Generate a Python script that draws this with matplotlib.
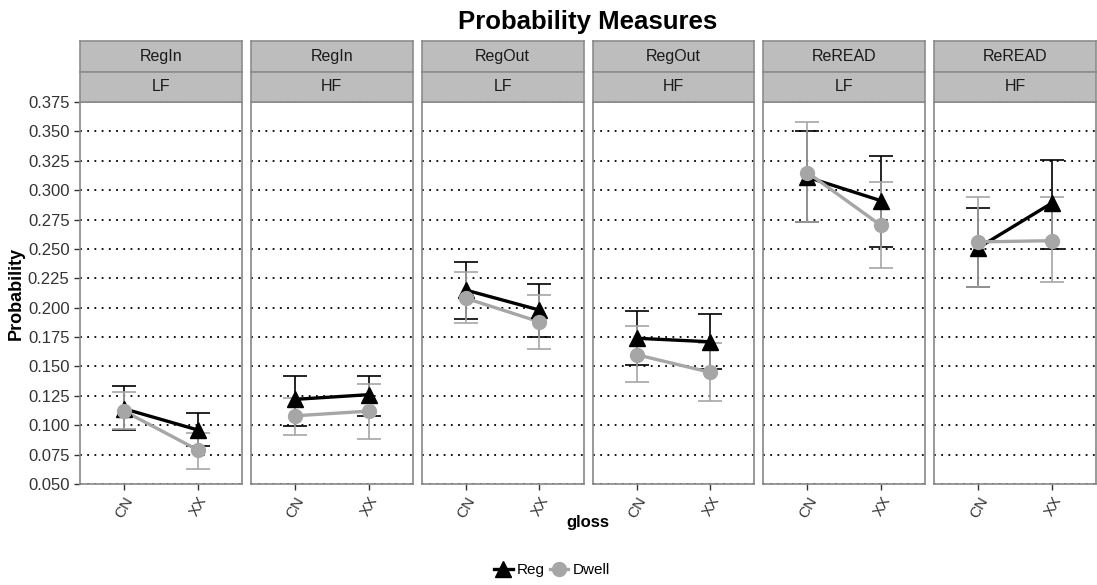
import numpy as np
import matplotlib
matplotlib.use('Agg')
import matplotlib.pyplot as plt
from matplotlib.lines import Line2D

plt.rcParams['font.family'] = ['Liberation Sans', 'DejaVu Sans']

# facets
measures = ['RegIn', 'RegIn', 'RegOut', 'RegOut', 'ReREAD', 'ReREAD']
freqs = ['LF', 'HF', 'LF', 'HF', 'LF', 'HF']
gloss = ['CN', 'XX']

# Reg series: mean, lower, upper per panel (CN, XX)
reg_mean = [[0.114, 0.096], [0.122, 0.126], [0.215, 0.198], [0.174, 0.171], [0.311, 0.291], [0.251, 0.289]]
reg_low = [[0.096, 0.082], [0.099, 0.108], [0.190, 0.175], [0.151, 0.148], [0.273, 0.252], [0.218, 0.250]]
reg_high = [[0.133, 0.110], [0.142, 0.142], [0.239, 0.220], [0.197, 0.195], [0.350, 0.329], [0.285, 0.326]]

# Dwell series
dw_mean = [[0.112, 0.079], [0.108, 0.112], [0.208, 0.188], [0.160, 0.145], [0.315, 0.270], [0.256, 0.257]]
dw_low = [[0.097, 0.063], [0.092, 0.088], [0.187, 0.165], [0.137, 0.121], [0.273, 0.234], [0.218, 0.222]]
dw_high = [[0.128, 0.093], [0.123, 0.135], [0.230, 0.211], [0.184, 0.170], [0.358, 0.307], [0.294, 0.294]]

yticks = np.arange(0.05, 0.3751, 0.025)

W, H = 1097, 585
fig = plt.figure(figsize=(W / 100, H / 100), dpi=100)

left, right = 80, 1096
gap = 9
pw = (right - left - 5 * gap) / 6
top, bottom = 102, 484
strip_h = 30.5

black = '#000000'
grey = '#A6A6A6'
x = np.arange(1, 3)

for i in range(6):
    x0 = left + i * (pw + gap)
    ax = fig.add_axes([x0 / W, 1 - bottom / H, pw / W, (bottom - top) / H])
    # errorbars
    for mean, lo, hi, col in [(reg_mean[i], reg_low[i], reg_high[i], black),
                              (dw_mean[i], dw_low[i], dw_high[i], grey)]:
        m = np.array(mean)
        yerr = [m - np.array(lo), np.array(hi) - m]
        ax.errorbar(x, m, yerr=yerr, fmt='none', ecolor=col, elinewidth=1.2,
                    capsize=8.5, capthick=1.2, zorder=2)
    ax.plot(x, reg_mean[i], color=black, lw=2.4, zorder=3)
    ax.plot(x, dw_mean[i], color=grey, lw=2.4, zorder=3)
    ax.plot(x, reg_mean[i], '^', color=black, ms=11, zorder=4)
    ax.plot(x, dw_mean[i], 'o', color=grey, ms=10, zorder=4)

    ax.set_xlim(0.4, 2.6)
    ax.set_ylim(0.05, 0.375)
    ax.set_yticks(yticks)
    ax.set_xticks(x)
    ax.set_xticklabels(gloss, rotation=60, ha='right', va='top', fontsize=11,
                       rotation_mode='anchor', color='#333333')
    ax.yaxis.grid(True, linestyle=(0, (1, 3)), color='black', lw=1.3)
    ax.set_axisbelow(True)
    ax.tick_params(axis='both', length=4, color='#333333', width=1)
    if i == 0:
        ax.set_yticklabels(['%.3f' % t for t in yticks], fontsize=12, color='#333333')
        ax.set_ylabel('Probability', fontsize=13, fontweight='bold', labelpad=2)
    else:
        ax.tick_params(axis='y', left=False, labelleft=False)
    for s in ax.spines.values():
        s.set_color('#888888')
        s.set_linewidth(1.2)

    # strips
    for lab, yt in [(measures[i], top - 2 * strip_h), (freqs[i], top - strip_h)]:
        sax = fig.add_axes([x0 / W, 1 - (yt + strip_h) / H, pw / W, strip_h / H])
        sax.set_facecolor('#BDBDBD')
        sax.set_xticks([])
        sax.set_yticks([])
        for s in sax.spines.values():
            s.set_color('#8C8C8C')
            s.set_linewidth(1.2)
        sax.text(0.5, 0.5, lab, ha='center', va='center', fontsize=11.5,
                 color='#1a1a1a', transform=sax.transAxes)

fig.text((left + right) / 2 / W, 1 - 22 / H, 'Probability Measures', ha='center',
         va='center', fontsize=18.5, fontweight='bold')
fig.text((left + right) / 2 / W, 1 - 523 / H, 'gloss', ha='center', va='center',
         fontsize=12, fontweight='bold')

handles = [Line2D([0], [0], color=black, lw=2.4, marker='^', ms=11),
           Line2D([0], [0], color=grey, lw=2.4, marker='o', ms=10)]
fig.legend(handles, ['Reg', 'Dwell'], loc='center', bbox_to_anchor=(552 / W, 1 - 570 / H),
           ncol=2, frameon=False, fontsize=11, handlelength=1.2, columnspacing=0.3,
           handletextpad=0.3)

fig.savefig('out.png', dpi=100)
